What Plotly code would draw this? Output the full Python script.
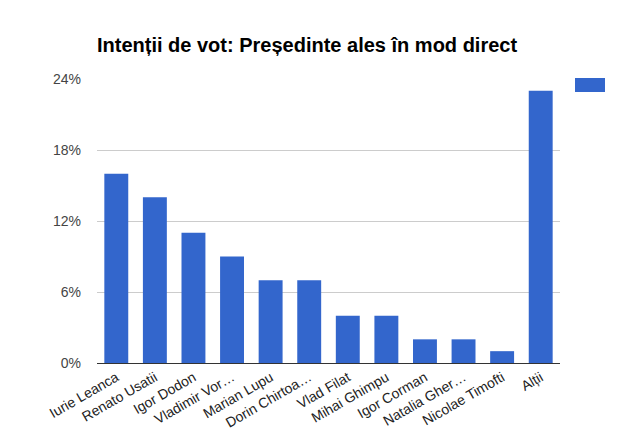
import plotly.graph_objects as go

categories = ["Iurie Leanca", "Renato Usatii", "Igor Dodon", "Vladimir Vor…", "Marian Lupu",
              "Dorin Chirtoa…", "Vlad Filat", "Mihai Ghimpu", "Igor Corman", "Natalia Gher…",
              "Nicolae Timofti", "Alții"]
values = [16, 14, 11, 9, 7, 7, 4, 4, 2, 2, 1, 23]
y_ticks = [0, 6, 12, 18, 24]
y_tick_labels = ["0%", "6%", "12%", "18%", "24%"]

BLUE = "#3366cc"
W, H = 633, 432
L, R, T, B = 97, 73, 79, 69

fig = go.Figure(go.Bar(x=categories, y=values, marker=dict(color=BLUE, line=dict(width=0)),
                       showlegend=False))

fig.update_layout(
    width=W, height=H,
    margin=dict(l=L, r=R, t=T, b=B),
    paper_bgcolor="white", plot_bgcolor="white",
    font=dict(family="Liberation Sans, Arial, sans-serif", size=14, color="#222"),
    bargap=0.38,
    title=dict(text="<b>Intenții de vot: Președinte ales în mod direct</b>",
               font=dict(size=20, color="#000"),
               xref="container", x=97 / W, xanchor="left",
               yref="container", y=1 - 45 / H, yanchor="middle"),
    xaxis=dict(tickangle=-30, showline=True, linecolor="#333", linewidth=1,
               showgrid=False, ticks="", tickfont=dict(size=14, color="#222"),
               automargin=False, fixedrange=True),
    yaxis=dict(range=[0, 24], tickvals=y_ticks, ticktext=y_tick_labels,
               showgrid=True, gridcolor="#cccccc", zeroline=False,
               tickfont=dict(size=14, color="#444"), ticklabelstandoff=15,
               automargin=False, fixedrange=True),
    shapes=[dict(type="rect", xref="paper", yref="paper",
                 x0=(575 - L) / (W - L - R), x1=(605 - L) / (W - L - R),
                 y0=(H - B - 92) / (H - T - B), y1=(H - B - 78) / (H - T - B),
                 fillcolor=BLUE, line=dict(width=0))],
)

fig.write_html("out.html")
